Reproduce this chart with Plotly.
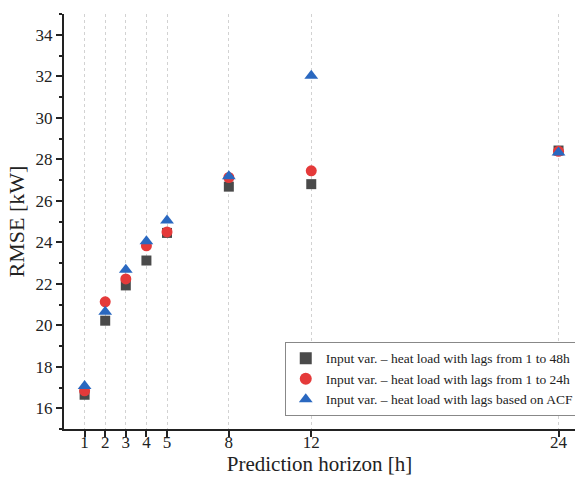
import plotly.graph_objects as go

horizons = [1, 2, 3, 4, 5, 8, 12, 24]
rmse_lags48 = [16.65, 20.22, 21.92, 23.12, 24.45, 26.68, 26.80, 28.42]
rmse_lags24 = [16.84, 21.13, 22.23, 23.83, 24.50, 27.12, 27.44, 28.38]
rmse_acf = [17.07, 20.65, 22.68, 24.05, 25.05, 27.18, 32.03, 28.32]

names = [
    "Input var. \u2013 heat load with lags from 1 to 48h",
    "Input var. \u2013 heat load with lags from 1 to 24h",
    "Input var. \u2013 heat load with lags based on ACF",
]
y_ticks = [16, 18, 20, 22, 24, 26, 28, 30, 32, 34]

font = "Liberation Serif"
fig = go.Figure()
fig.add_trace(go.Scatter(x=horizons, y=rmse_lags48, mode="markers", name=names[0],
                         marker=dict(symbol="square", size=10, color="#4a4a4a")))
fig.add_trace(go.Scatter(x=horizons, y=rmse_lags24, mode="markers", name=names[1],
                         marker=dict(symbol="circle", size=11, color="#e53a3a")))
fig.add_trace(go.Scatter(x=horizons, y=rmse_acf, mode="markers", name=names[2],
                         marker=dict(symbol="triangle-up", size=12, color="#2a68c0")))

fig.update_layout(
    width=575, height=478,
    margin=dict(l=64, r=0, t=14, b=49, autoexpand=False),
    plot_bgcolor="white", paper_bgcolor="white",
    font=dict(family=font, color="#222"),
    xaxis=dict(
        range=[0, 24.8], tickmode="array", tickvals=horizons,
        ticktext=[str(h) for h in horizons],
        ticks="outside", ticklen=6, tickwidth=2, tickcolor="#222",
        ticklabelstandoff=-9,
        showline=True, linecolor="#222", linewidth=2,
        showgrid=True, gridcolor="#d2d2d2", gridwidth=1, griddash="dot",
        zeroline=False, tickfont=dict(size=17, family=font),
        title=dict(text="Prediction horizon [h]", font=dict(size=21, family=font), standoff=3),
    ),
    yaxis=dict(
        range=[15, 35], tickmode="array", tickvals=y_ticks,
        ticks="outside", ticklen=6, tickwidth=2, tickcolor="#222",
        minor=dict(ticks="outside", ticklen=3, tickwidth=1.5, tickcolor="#222", dtick=1, showgrid=False),
        showline=True, linecolor="#222", linewidth=2,
        showgrid=False, zeroline=False, tickfont=dict(size=17, family=font),
        title=dict(text="RMSE [kW]", font=dict(size=22, family=font), standoff=5),
    ),
    legend=dict(
        x=0.432, y=0.21, xanchor="left", yanchor="top",
        bordercolor="#888", borderwidth=1, bgcolor="white",
        font=dict(size=13.5, family=font, color="#222"),
        itemsizing="constant", tracegroupgap=0,
    ),
)
fig.write_html("out.html", config={"displayModeBar": False})

with open("out.html", "r", encoding="utf-8") as f:
    html = f.read()
html = html.replace("<body>", '<body style="margin:0;padding:0;">', 1)
with open("out.html", "w", encoding="utf-8") as f:
    f.write(html)
